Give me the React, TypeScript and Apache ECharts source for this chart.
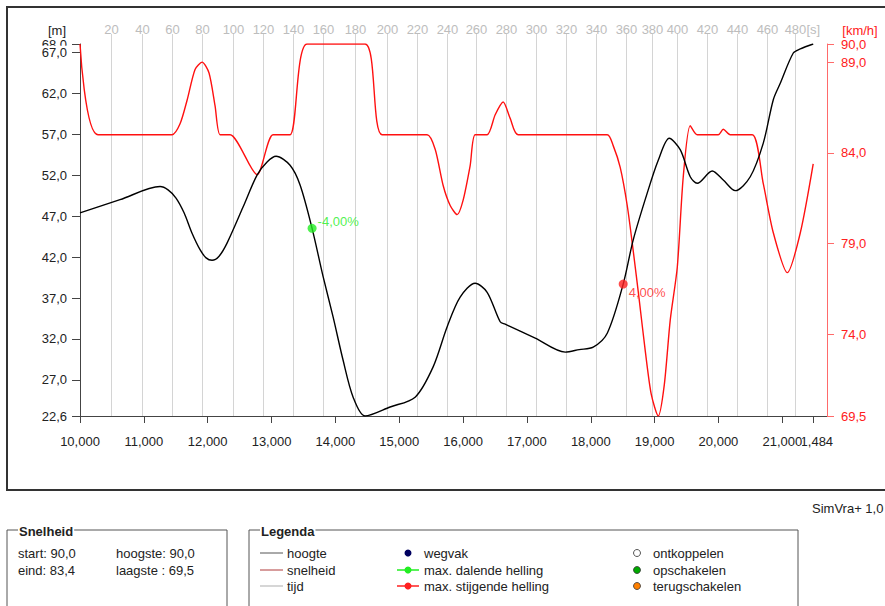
import React, { useEffect, useRef } from 'react';
import * as echarts from 'echarts';

// Axis ticks
const distTicks = [10000, 11000, 12000, 13000, 14000, 15000, 16000, 17000, 18000, 19000, 20000, 21000];
const distEndTick = [21484];
const heightTicks = [22.6, 27, 32, 37, 42, 47, 52, 57, 62, 67];
const heightTopTick = [68];
const speedTicks = [69.5, 74, 79, 84, 89, 90];

// Time grid (seconds) and the distance where each is reached
const timeSeconds = [20, 40, 60, 80, 100, 120, 140, 160, 180, 200, 220, 240, 260, 280, 300, 320, 340, 360, 380, 400, 420, 440, 460, 480];
const timeDist = [10486, 10971, 11442, 11912, 12397, 12867, 13338, 13808, 14309, 14810, 15280, 15751, 16205, 16675, 17145, 17615, 18085, 18555, 18963, 19355, 19825, 20295, 20765, 21203];

// Height profile [m]
const heightDist = [10000, 10627, 11254, 11379, 11504, 11630, 11755, 11880, 11975, 12068, 12178, 12303, 12554, 12773, 12930, 13071, 13290, 13447, 13635, 13808, 13964, 14121, 14278, 14466, 14857, 15249, 15531, 15751, 15954, 16189, 16377, 16581, 16659, 17130, 17600, 17819, 18038, 18258, 18508, 18665, 18884, 19057, 19229, 19401, 19558, 19668, 19903, 20075, 20263, 20498, 20702, 20859, 20968, 21172, 21282, 21484];
const heightVals = [47.4, 49.0, 50.6, 50.2, 49.2, 47.4, 44.9, 42.9, 41.9, 41.6, 42.1, 43.7, 48.1, 52.0, 53.6, 54.3, 53.2, 50.8, 45.5, 39.6, 34.7, 29.4, 24.9, 22.6, 23.7, 24.9, 28.6, 33.5, 37.1, 38.8, 37.7, 34.1, 33.8, 32.1, 30.4, 30.7, 31.0, 32.7, 38.7, 44.1, 49.8, 53.8, 56.5, 55.1, 51.8, 51.0, 52.5, 51.4, 50.1, 51.8, 55.9, 61.2, 63.2, 66.9, 67.4, 68.0];

// Speed profile [km/h]
const speedDist = [10000, 10282, 11442, 11567, 11677, 11802, 11912, 12021, 12115, 12194, 12350, 12773, 13024, 13290, 13557, 14466, 14732, 15437, 15563, 15688, 15798, 15907, 16001, 16111, 16189, 16377, 16503, 16628, 16738, 16863, 18258, 18351, 18461, 18571, 18665, 18759, 18853, 18947, 19057, 19151, 19245, 19355, 19449, 19558, 19668, 19997, 20075, 20185, 20530, 20702, 20859, 21078, 21282, 21484];
const speedVals = [90.0, 85.0, 85.0, 85.6, 86.9, 88.6, 89.0, 88.4, 86.6, 85.0, 85.0, 82.8, 85.0, 85.0, 90.0, 90.0, 85.0, 85.0, 84.2, 82.2, 81.1, 80.6, 81.4, 83.3, 85.0, 85.0, 86.1, 86.8, 85.9, 85.0, 85.0, 84.4, 83.2, 81.1, 78.6, 75.9, 73.1, 70.7, 69.5, 71.2, 74.8, 77.7, 82.7, 85.5, 85.0, 85.0, 85.3, 85.0, 85.0, 82.3, 79.6, 77.4, 79.6, 83.4];

// Max slope markers
const slopeDist = [13635, 18508];
const slopeHeight = [45.5, 38.7];
const slopeLabels = ['-4,00%', '4,00%'];
const slopeColors = ['#22ee22', '#ff2020'];

const FF = "'Liberation Sans', Arial, Helvetica, sans-serif";
const fmt1 = (v: number) => v.toFixed(1).replace('.', ',');
const fmtDist = (v: number) => Math.round(v).toLocaleString('en-US');

export default function App() {
  const ref = useRef<HTMLDivElement>(null);
  useEffect(() => {
    if (!ref.current) return;
    const chart = echarts.init(ref.current, undefined, { renderer: 'svg' });
    const hMin = heightTicks[0];
    const hMax = heightTopTick[0];
    const xMin = distTicks[0];
    const xMax = 21700;
    const lastIdx = timeSeconds.length - 1;

    const text = (x: number, y: number, t: string, extra: any = {}) => ({
      type: 'text', x, y,
      style: { text: t, font: `13px ${FF}`, fill: '#222', verticalAlign: 'middle', ...extra },
    });

    const xAxisBase = (ticks: number[], showLine: boolean) => ({
      type: 'value', min: xMin, max: xMax, position: 'bottom',
      axisLine: { show: showLine, lineStyle: { color: '#444', width: 1 } },
      axisTick: { show: true, length: 7, lineStyle: { color: '#444' }, customValues: ticks },
      axisLabel: {
        customValues: ticks, margin: 19, color: '#222', fontSize: 13, fontFamily: FF,
        hideOverlap: false, formatter: fmtDist, backgroundColor: showLine ? '#fff' : 'transparent',
      },
      splitLine: { show: false },
    });

    const heightAxis = (ticks: number[], showLine: boolean) => ({
      type: 'value', min: hMin, max: hMax, position: 'left', offset: 0,
      axisLine: { show: showLine, lineStyle: { color: '#444' } },
      axisTick: { show: true, length: 8, lineStyle: { color: '#444' }, customValues: ticks },
      axisLabel: {
        customValues: ticks, margin: 13, color: '#222', fontSize: 13, fontFamily: FF, formatter: fmt1,
        hideOverlap: false, backgroundColor: showLine ? '#fff' : 'transparent',
      },
      splitLine: { show: false },
    });

    const option: any = {
      animation: false,
      backgroundColor: '#fff',
      grid: { left: 80, right: 58, top: 44, bottom: 190, containLabel: false },
      xAxis: [xAxisBase(distEndTick, false), xAxisBase(distTicks, true)],
      yAxis: [
        heightAxis(heightTopTick, false),
        heightAxis(heightTicks, true),
        {
          type: 'value', min: speedTicks[0], max: speedTicks[speedTicks.length - 1], position: 'right',
          axisLine: { show: true, lineStyle: { color: '#ff6a6a' } },
          axisTick: { show: true, length: 7, lineStyle: { color: '#ff6a6a' }, customValues: speedTicks },
          axisLabel: {
            customValues: speedTicks, margin: 14, color: '#ff2020', fontSize: 13, fontFamily: FF, formatter: fmt1,
            hideOverlap: false,
          },
          splitLine: { show: false },
        },
      ],
      series: [
        {
          type: 'custom',
          clip: false,
          yAxisIndex: 1,
          z: 1,
          silent: true,
          data: timeDist.map((d, i) => [d, timeSeconds[i]]),
          renderItem: (params: any, api: any) => {
            const d = api.value(0);
            const bottom = api.coord([d, hMin]);
            const top = api.coord([d, hMax]);
            const x = Math.round(bottom[0]) + 0.5;
            const children: any[] = [
              { type: 'line', shape: { x1: x, y1: top[1] - 10, x2: x, y2: bottom[1] }, style: { stroke: '#d4d4d4', lineWidth: 1 } },
              { type: 'text', style: { text: String(api.value(1)), x, y: top[1] - 15, align: 'center', verticalAlign: 'middle', fill: '#bdbdbd', font: `13px ${FF}` } },
            ];
            if (params.dataIndex === lastIdx) {
              children.push({ type: 'text', style: { text: '[s]', x: x + 11, y: top[1] - 15, align: 'left', verticalAlign: 'middle', fill: '#bdbdbd', font: `13px ${FF}` } });
            }
            return { type: 'group', children };
          },
        },
        {
          name: 'snelheid', type: 'line', yAxisIndex: 2, z: 3,
          data: speedDist.map((d, i) => [d, speedVals[i]]),
          showSymbol: false, smooth: 0.25,
          lineStyle: { color: '#ff1010', width: 1.4 },
        },
        {
          name: 'hoogte', type: 'line', yAxisIndex: 1, z: 4,
          data: heightDist.map((d, i) => [d, heightVals[i]]),
          showSymbol: false, smooth: 0.3,
          lineStyle: { color: '#000', width: 1.4 },
        },
        ...slopeDist.map((d, i) => ({
          type: 'scatter', yAxisIndex: 1, z: 5,
          data: [[d, slopeHeight[i]]],
          symbolSize: 9,
          itemStyle: { color: slopeColors[i] },
          label: {
            show: true, formatter: slopeLabels[i], color: slopeColors[i], fontSize: 13, fontFamily: FF,
            position: 'right', distance: 1, offset: i === 0 ? [0, -7] : [0, 8],
          },
        })),
      ],
      graphic: [
        { type: 'rect', shape: { x: 7, y: 7, width: 900, height: 483 }, style: { fill: 'none', stroke: '#333', lineWidth: 2 }, z: 10 },
        text(57, 30, '[m]', { align: 'center' }),
        text(860, 30, '[km/h]', { align: 'center', fill: '#ff2020' }),
        text(812, 508, 'SimVra+ 1,0', { align: 'left' }),
        // Snelheid box
        { type: 'rect', shape: { x: 7, y: 530, width: 220, height: 110 }, style: { fill: 'none', stroke: '#555', lineWidth: 1 } },
        text(18, 531, 'Snelheid', { font: `bold 13px ${FF}`, backgroundColor: '#fff', padding: [0, 1] }),
        text(18, 553, 'start: 90,0'),
        text(18, 570, 'eind: 83,4'),
        text(116, 553, 'hoogste: 90,0'),
        text(116, 570, 'laagste : 69,5'),
        // Legenda box
        { type: 'rect', shape: { x: 249, y: 530, width: 549, height: 110 }, style: { fill: 'none', stroke: '#555', lineWidth: 1 } },
        text(260, 531, 'Legenda', { font: `bold 13px ${FF}`, backgroundColor: '#fff', padding: [0, 1] }),
        { type: 'line', shape: { x1: 260, y1: 553, x2: 283, y2: 553 }, style: { stroke: '#555', lineWidth: 1 } },
        text(287, 553, 'hoogte'),
        { type: 'line', shape: { x1: 260, y1: 570, x2: 283, y2: 570 }, style: { stroke: '#b03a3a', lineWidth: 1 } },
        text(287, 570, 'snelheid'),
        { type: 'line', shape: { x1: 260, y1: 586, x2: 283, y2: 586 }, style: { stroke: '#c8c8c8', lineWidth: 1.5 } },
        text(287, 586, 'tijd'),
        { type: 'circle', shape: { cx: 408, cy: 553, r: 3.5 }, style: { fill: '#000060' } },
        text(424, 553, 'wegvak'),
        { type: 'line', shape: { x1: 397, y1: 570, x2: 419, y2: 570 }, style: { stroke: '#22ee22', lineWidth: 1.5 } },
        { type: 'circle', shape: { cx: 408, cy: 570, r: 3.5 }, style: { fill: '#22ee22' } },
        text(424, 570, 'max. dalende helling'),
        { type: 'line', shape: { x1: 397, y1: 586, x2: 419, y2: 586 }, style: { stroke: '#ff2020', lineWidth: 1.5 } },
        { type: 'circle', shape: { cx: 408, cy: 586, r: 3.5 }, style: { fill: '#ff2020' } },
        text(424, 586, 'max. stijgende helling'),
        { type: 'circle', shape: { cx: 637, cy: 553, r: 3.5 }, style: { fill: '#fff', stroke: '#555', lineWidth: 1 } },
        text(653, 553, 'ontkoppelen'),
        { type: 'circle', shape: { cx: 637, cy: 570, r: 3.5 }, style: { fill: '#00aa00', stroke: '#333', lineWidth: 0.8 } },
        text(653, 570, 'opschakelen'),
        { type: 'circle', shape: { cx: 637, cy: 586, r: 3.5 }, style: { fill: '#ff8000', stroke: '#333', lineWidth: 0.8 } },
        text(653, 586, 'terugschakelen'),
      ],
    };
    chart.setOption(option);
    return () => chart.dispose();
  }, []);
  return <div ref={ref} style={{ position: 'fixed', left: 0, top: 0, width: 885, height: 606 }} />;
}
